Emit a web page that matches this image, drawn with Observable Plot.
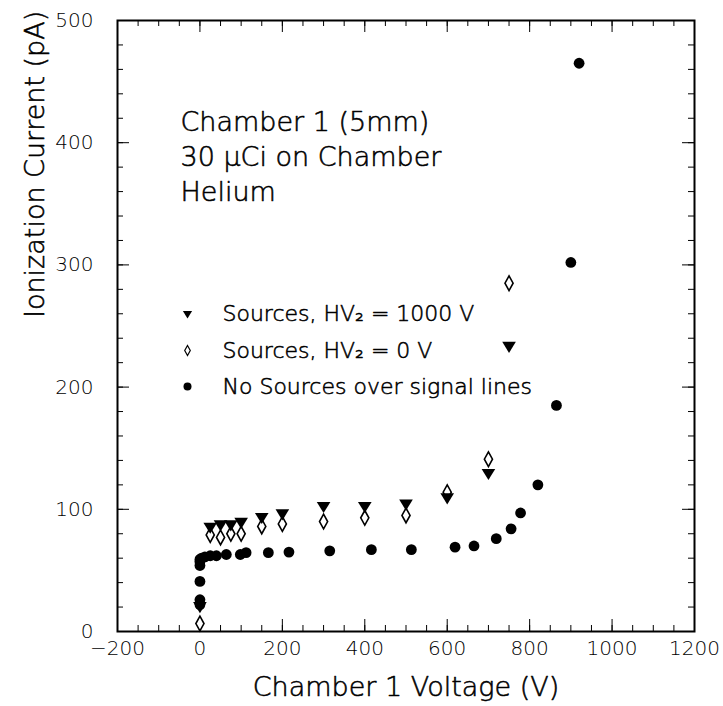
<!DOCTYPE html>
<html><head><meta charset="utf-8">
<script src="https://cdn.jsdelivr.net/npm/d3@7"></script>
<script src="https://cdn.jsdelivr.net/npm/@observablehq/plot@0.6"></script>
<style>
body{margin:0;background:#fff}
#chart svg{font-family:"DejaVu Sans",sans-serif;font-weight:200;color:#000}
</style>
</head><body><div id="chart"></div>
<script>
// ---- data ----
const hv1000Volt = [0, 25, 50, 75, 100, 150, 200, 300, 400, 500, 600, 700, 750];
const hv1000Curr = [21, 86, 88, 88, 90, 94, 97, 103, 103, 105, 110, 130, 234];
const hv0Volt    = [0, 25, 50, 75, 100, 150, 200, 300, 400, 500, 600, 700, 750];
const hv0Curr    = [6.5, 79, 77, 80, 80, 86, 88, 90, 93, 95, 114, 141, 285];
const noSrcVolt  = [0, 0, 0, 0, 0, 0, 4, 12, 25, 40, 64, 98, 112, 166, 216, 315, 416, 513, 619, 665, 719, 755, 778, 820, 865, 900, 920];
const noSrcCurr  = [22, 26, 41, 54, 57, 59, 60, 61, 62, 62, 63, 63, 64.5, 64.5, 65, 66, 67, 67, 69, 70, 76, 84, 97, 120, 185, 302, 465];

const xMajor = [-200, 0, 200, 400, 600, 800, 1000, 1200];
const xMinor = d3.range(-200, 1201, 50);
const yMajor = [0, 100, 200, 300, 400, 500];
const yMinor = d3.range(0, 501, 20);

const seriesLabels = ["Sources, HV\u2082 = 1000 V", "Sources, HV\u2082 = 0 V", "No Sources over signal lines"];
const noteLines = ["Chamber 1 (5mm)", "30 \u03bcCi on Chamber", "Helium"];
const xTitle = "Chamber 1 Voltage (V)";
const yTitle = "Ionization Current (pA)";

// ---- tables ----
const zipT = (xs, ys) => xs.map((x, i) => ({x, y: ys[i]}));
const hv1000 = zipT(hv1000Volt, hv1000Curr);
const hv0 = zipT(hv0Volt, hv0Curr);
const noSrc = zipT(noSrcVolt, noSrcCurr);

// ---- symbols ----
const triDown = {draw(ctx, size) {
  const r = Math.sqrt(size / Math.PI);
  const w = r * 1.1, h = r * 1.8;
  ctx.moveTo(-w, -h / 3); ctx.lineTo(w, -h / 3); ctx.lineTo(0, 2 * h / 3); ctx.closePath();
}};
const diamond = {draw(ctx, size) {
  const r = Math.sqrt(size / Math.PI);
  const w = r * 0.58, h = r * 1.05;
  ctx.moveTo(0, -h); ctx.lineTo(w, 0); ctx.lineTo(0, h); ctx.lineTo(-w, 0); ctx.closePath();
}};

const W = 723, H = 706, mL = 117, mR = 29, mT = 20, mB = 75;
const innerW = W - mL - mR, innerH = H - mT - mB;
const maj = 12, minr = 6;
const legendDy = [293, 330, 366];
const noteDy = [102, 137, 172];
const fmt = d => d < 0 ? "\u2212" + (-d) : String(d);
const ink = {fill: "black", stroke: "black", strokeWidth: 0.55};

const chart = Plot.plot({
  width: W, height: H,
  marginLeft: mL, marginRight: mR, marginTop: mT, marginBottom: mB,
  x: {domain: [-200, 1200]},
  y: {domain: [0, 500]},
  marks: [
    // inward ticks on all four sides
    Plot.tickX(xMinor, {x: d => d, insetTop: innerH - minr, stroke: "black", strokeWidth: 1}),
    Plot.tickX(xMajor, {x: d => d, insetTop: innerH - maj, stroke: "black", strokeWidth: 1}),
    Plot.tickX(xMinor, {x: d => d, insetBottom: innerH - minr, stroke: "black", strokeWidth: 1}),
    Plot.tickX(xMajor, {x: d => d, insetBottom: innerH - maj, stroke: "black", strokeWidth: 1}),
    Plot.tickY(yMinor, {y: d => d, insetRight: innerW - minr, stroke: "black", strokeWidth: 1}),
    Plot.tickY(yMajor, {y: d => d, insetRight: innerW - maj, stroke: "black", strokeWidth: 1}),
    Plot.tickY(yMinor, {y: d => d, insetLeft: innerW - minr, stroke: "black", strokeWidth: 1}),
    Plot.tickY(yMajor, {y: d => d, insetLeft: innerW - maj, stroke: "black", strokeWidth: 1}),
    Plot.frame({stroke: "black", strokeWidth: 2}),
    Plot.axisX({ticks: xMajor, tickSize: 0, tickPadding: 9, fontSize: 20, tickFormat: fmt, label: null, ...ink}),
    Plot.axisY({ticks: yMajor, tickSize: 0, tickPadding: 24, fontSize: 20, tickFormat: fmt, label: null, ...ink}),
    Plot.text([xTitle], {frameAnchor: "bottom", dy: 56, fontSize: 27, lineAnchor: "middle", ...ink}),
    Plot.text([yTitle], {frameAnchor: "left", dx: -82, dy: -8, rotate: -90, fontSize: 27, lineAnchor: "middle", ...ink}),
    // annotation
    ...noteLines.map((t, i) => Plot.text([t], {frameAnchor: "top-left", dx: 63, dy: noteDy[i], textAnchor: "start", fontSize: 27, lineAnchor: "middle", ...ink})),
    // legend
    Plot.dot([0], {frameAnchor: "top-left", dx: 70, dy: legendDy[0], r: 4.2, fill: "black", stroke: "none", symbol: triDown}),
    Plot.dot([0], {frameAnchor: "top-left", dx: 70, dy: legendDy[1], r: 4.8, fill: "white", stroke: "black", strokeWidth: 1.2, symbol: diamond}),
    Plot.dot([0], {frameAnchor: "top-left", dx: 70, dy: legendDy[2], r: 4, fill: "black", stroke: "none", symbol: "circle"}),
    ...seriesLabels.map((t, i) => Plot.text([t], {frameAnchor: "top-left", dx: 105, dy: legendDy[i], textAnchor: "start", fontSize: 22, lineAnchor: "middle", ...ink})),
    // data
    Plot.dot(noSrc, {x: "x", y: "y", r: 5.4, fill: "black", stroke: "none", symbol: "circle"}),
    Plot.dot(hv0, {x: "x", y: "y", r: 7, fill: "white", stroke: "black", strokeWidth: 1.6, symbol: diamond}),
    Plot.dot(hv1000, {x: "x", y: "y", r: 6.2, fill: "black", stroke: "none", symbol: triDown}),
  ]
});
document.getElementById("chart").append(chart);
</script>
</body></html>
